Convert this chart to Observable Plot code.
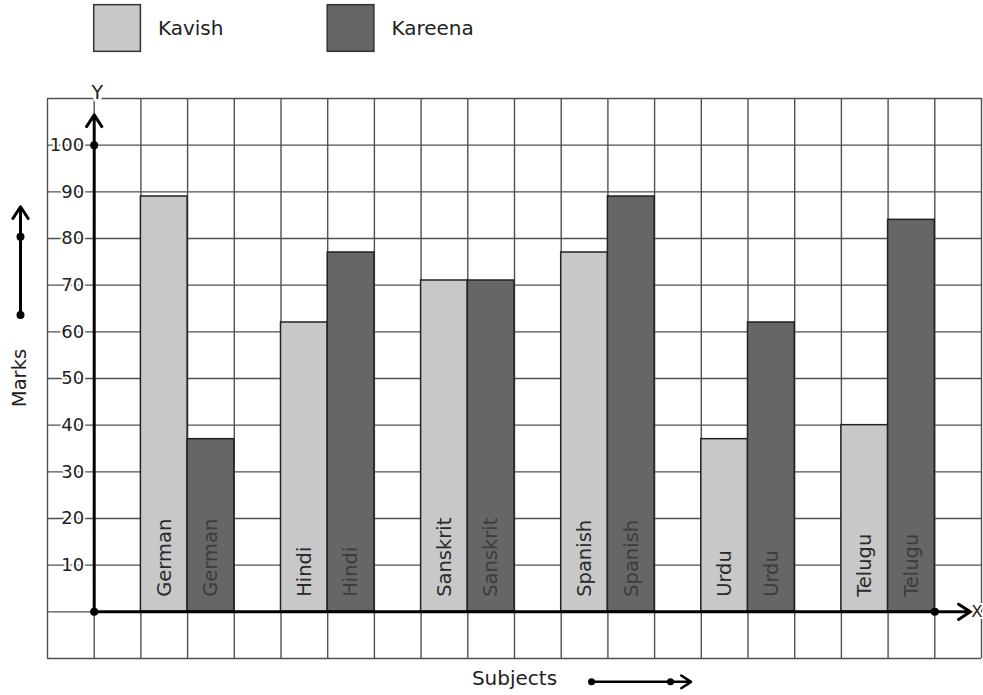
<!DOCTYPE html>
<html>
<head>
<meta charset="utf-8">
<script src="https://cdn.jsdelivr.net/npm/d3@7"></script>
<script src="https://cdn.jsdelivr.net/npm/@observablehq/plot@0.6"></script>
<style>
  html, body { margin: 0; padding: 0; background: #fff; }
  #chart svg { display: block; }
</style>
</head>
<body>
<div id="chart"></div>
<script>
// ---- Data ----
const subjects = ["German", "Hindi", "Sanskrit", "Spanish", "Urdu", "Telugu"];
const seriesNames = ["Kavish", "Kareena"];
const kavishMarks = [89, 62, 71, 77, 37, 40];
const kareenaMarks = [37, 77, 71, 89, 62, 84];
const yTickValues = [10, 20, 30, 40, 50, 60, 70, 80, 90, 100];
const seriesColors = ["#c8c8c8", "#666666"];
const labelColors = ["#2a2a2a", "#3c3c3c"];
const axisTitles = {x: "Subjects", y: "Marks"};

// ---- Table built from the arrays (each subject group spans 3 grid cells) ----
const seriesValues = [kavishMarks, kareenaMarks];
const rows = subjects.flatMap((s, i) =>
  seriesNames.map((name, j) => ({
    subject: s,
    series: name,
    si: j,
    value: seriesValues[j][i],
    x1: 1 + 3 * i + j,
    x2: 2 + 3 * i + j
  }))
);
const legendRows = seriesNames.map((name, j) => ({name, si: j, x1: 5 * j, x2: 5 * j + 1}));

const font = "DejaVu Sans";

const chart = Plot.plot({
  width: 983,
  height: 695,
  margin: 0,
  style: {fontFamily: font, background: "#fff", overflow: "visible"},
  x: {type: "linear", domain: [-1, 19], range: [47, 981], axis: null},
  y: {type: "linear", domain: [-10, 110], range: [658, 98], axis: null},
  color: {domain: seriesNames, range: seriesColors},
  marks: [
    // grid
    Plot.ruleX(d3.range(-1, 20), {y1: -10, y2: 110, stroke: "#505050", strokeWidth: 1.4}),
    Plot.ruleY(d3.range(-10, 111, 10), {x1: -1, x2: 19, stroke: "#505050", strokeWidth: 1.4}),
    // bars
    Plot.rect(rows, {x1: "x1", x2: "x2", y1: 0, y2: "value", fill: "series", stroke: "#222", strokeWidth: 1.5}),
    // bar labels
    Plot.text(rows, {
      x: d => (d.x1 + d.x2) / 2, y: 0, text: "subject",
      rotate: -90, textAnchor: "start", lineAnchor: "middle", dy: -15,
      fill: d => labelColors[d.si], fontSize: 19.5
    }),
    // axes with arrows
    Plot.arrow([{x1: 0, y1: 0, x2: 0, y2: 106.5}], {x1: "x1", y1: "y1", x2: "x2", y2: "y2", stroke: "#000", strokeWidth: 3, headLength: 7, headAngle: 66}),
    Plot.arrow([{x1: 0, y1: 0, x2: 18.76, y2: 0}], {x1: "x1", y1: "y1", x2: "x2", y2: "y2", stroke: "#000", strokeWidth: 3, headLength: 7, headAngle: 66}),
    Plot.dot([[0, 0], [0, 100], [18, 0]], {x: d => d[0], y: d => d[1], r: 4, fill: "#000"}),
    // y tick labels
    Plot.text(yTickValues, {
      x: 0, y: d => d, text: d => String(d), dx: -10, textAnchor: "end",
      fill: "#222", stroke: "#fff", strokeWidth: 4, fontSize: 18
    }),
    // axis letters
    Plot.text(["Y"], {x: 0, y: 110, dx: 3, dy: -6, text: d => d, fill: "#222", stroke: "#fff", strokeWidth: 6, fontSize: 19}),
    Plot.text(["X"], {x: 18.76, y: 0, dx: 1, textAnchor: "start", text: d => d, fill: "#222", stroke: "#fff", strokeWidth: 4, fontSize: 16.5}),
    // legend
    Plot.rect(legendRows, {x1: "x1", x2: "x2", y1: 120, y2: 130, fill: d => seriesColors[d.si], stroke: "#333", strokeWidth: 1.5}),
    Plot.text(legendRows, {x: "x2", y: 125, dx: 17, text: "name", textAnchor: "start", fill: "#222", fontSize: 20}),
    // y title with arrow
    Plot.text([axisTitles.y], {x: -1.6, y: 50.1, text: d => d, rotate: -90, fill: "#222", fontSize: 19.5}),
    Plot.arrow([{x1: -1.578, y1: 63.6, x2: -1.578, y2: 86.8}], {x1: "x1", y1: "y1", x2: "x2", y2: "y2", stroke: "#000", strokeWidth: 3, headLength: 7, headAngle: 66}),
    Plot.dot([[-1.578, 63.6], [-1.578, 80.4]], {x: d => d[0], y: d => d[1], r: 4, fill: "#000"}),
    // x title with arrow
    Plot.text([axisTitles.x], {x: 9.0, y: -14.2, text: d => d, fill: "#222", fontSize: 20}),
    Plot.arrow([{x1: 10.65, y1: -15.0, x2: 12.78, y2: -15.0}], {x1: "x1", y1: "y1", x2: "x2", y2: "y2", stroke: "#000", strokeWidth: 2.5, headLength: 7, headAngle: 66}),
    Plot.dot([[10.65, -15.0], [12.34, -15.0]], {x: d => d[0], y: d => d[1], r: 3.5, fill: "#000"})
  ]
});

document.getElementById("chart").append(chart);
</script>
</body>
</html>
